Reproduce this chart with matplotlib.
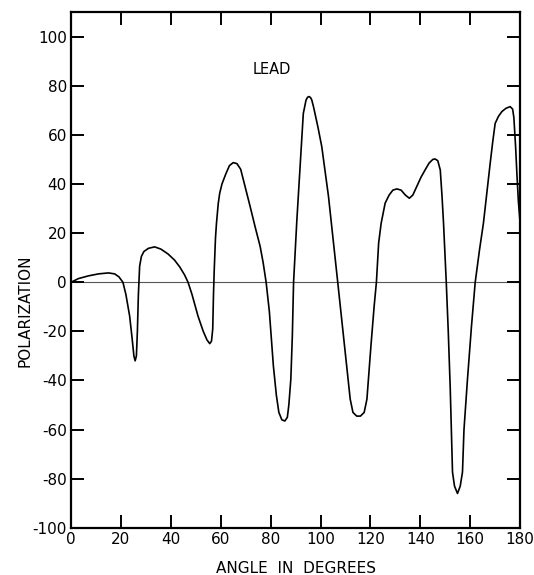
import numpy as np
import matplotlib
matplotlib.use("Agg")
import matplotlib.pyplot as plt

# values (angle in degrees, polarization)
angle = [0, 3, 7, 11, 15, 17.5, 19.2, 20.8, 22, 23.5, 24.5, 25.2, 25.7, 26.2, 26.6,
         27.0, 27.5, 28.2, 29.2, 31, 33.5, 36, 38.9, 41.5, 43.6, 45.5, 46.9, 48.5,
         50.9, 53, 54.5, 55.6, 56.3, 56.8, 57.1, 57.4, 57.9, 58.3, 59.0, 59.6, 60.5,
         62, 63.5, 65, 66.5, 68, 69.5, 71.8, 73.8, 75.8, 77, 78.2, 79.5, 81.1, 82.3,
         83.3, 84.5, 85.7, 86.7, 87.3, 88.1, 88.7, 89.2, 90.5, 91.8, 93.1, 94.2,
         94.8, 95.4, 96.0, 96.5, 97.2, 99, 100.5, 102, 103.2, 105, 106.9, 109, 111.9,
         113, 114.5, 116, 117.5, 118.6, 120.2, 121.5, 122.4, 123.3, 124.3, 125.9,
         127.5, 129, 130.6, 132.3, 134, 135.6, 137, 138.6, 140.3, 141.9, 143.5, 145,
         145.9, 147, 148, 148.7, 149.3, 150.4, 151.2, 152, 152.9, 153.7, 154.9, 156,
         156.9, 157.5, 158.9, 160.5, 162, 163.7, 165.3, 166.5, 168, 169, 170, 171.3,
         172.7, 174.3, 176, 177, 177.5, 178.2, 178.7, 179.3, 180]
polarization = [0, 1.5, 2.6, 3.4, 3.8, 3.4, 2.2, 0, -5, -13.8, -23, -30, -32, -30, -20,
                -5, 6.5, 10.5, 12.5, 13.8, 14.4, 13.5, 11.5, 9, 6.2, 3, 0, -5,
                -13.8, -20, -23.5, -25, -24, -19, -5, 5, 18, 24, 32, 36.3, 40,
                44, 47.5, 48.7, 48.3, 46, 40, 30.8, 22.5, 14.6, 8, 0, -12, -34, -46,
                -53, -56, -56.5, -55, -50, -39.5, -22, 0, 25, 47, 68.7, 74.2,
                75.3, 75.6, 75.2, 74.2, 71.4, 63, 55.2, 44, 34.9, 18, 0, -20, -47.6,
                -53, -54.5, -54.5, -53, -47.6, -26, -9.7, 0, 16, 24, 32.2,
                35.5, 37.5, 38, 37.5, 35.5, 34.2, 35.5, 39, 42.8, 45.7, 48.5, 50,
                50.2, 49.5, 45.7, 35, 24.1, 0, -20, -43.5, -77.3, -83, -86, -83,
                -77.3, -60, -39.5, -18, 0, 13, 24.1, 35, 48.4, 57, 64.7, 67.5,
                69.5, 70.8, 71.5, 70.5, 67, 55, 44.4, 33, 24]

x_ticks = [0, 20, 40, 60, 80, 100, 120, 140, 160, 180]
y_ticks = [-100, -80, -60, -40, -20, 0, 20, 40, 60, 80, 100]

plt.rcParams['font.family'] = ['DejaVu Sans']

fig = plt.figure(figsize=(5.34, 5.75), dpi=100)
ax = fig.add_axes([0.133, 0.082, 0.841, 0.897])

ax.axhline(0, color='#555555', lw=0.8, zorder=1)
ax.plot(angle, polarization, color='black', lw=1.2, zorder=2)

ax.set_xlim(0, 180)
ax.set_ylim(-100, 110)
ax.set_xticks(x_ticks)
ax.set_yticks(y_ticks)
ax.set_xticklabels([str(t) for t in x_ticks], fontsize=11)
ax.set_yticklabels([str(t) for t in y_ticks], fontsize=11)
ax.tick_params(direction='in', length=9.5, width=1.4, top=True, right=True,
               labeltop=False, labelright=False, pad=3)

for side in ax.spines.values():
    side.set_linewidth(1.6)

ax.text(80.6, 86.5, "LEAD", fontsize=10.5, ha='center', va='center')
ax.set_xlabel("ANGLE  IN  DEGREES", fontsize=11, labelpad=10)
ax.set_ylabel("POLARIZATION", fontsize=11, labelpad=4)
ax.yaxis.set_label_coords(-0.085, 0.42)

fig.savefig("out.png", dpi=100)
